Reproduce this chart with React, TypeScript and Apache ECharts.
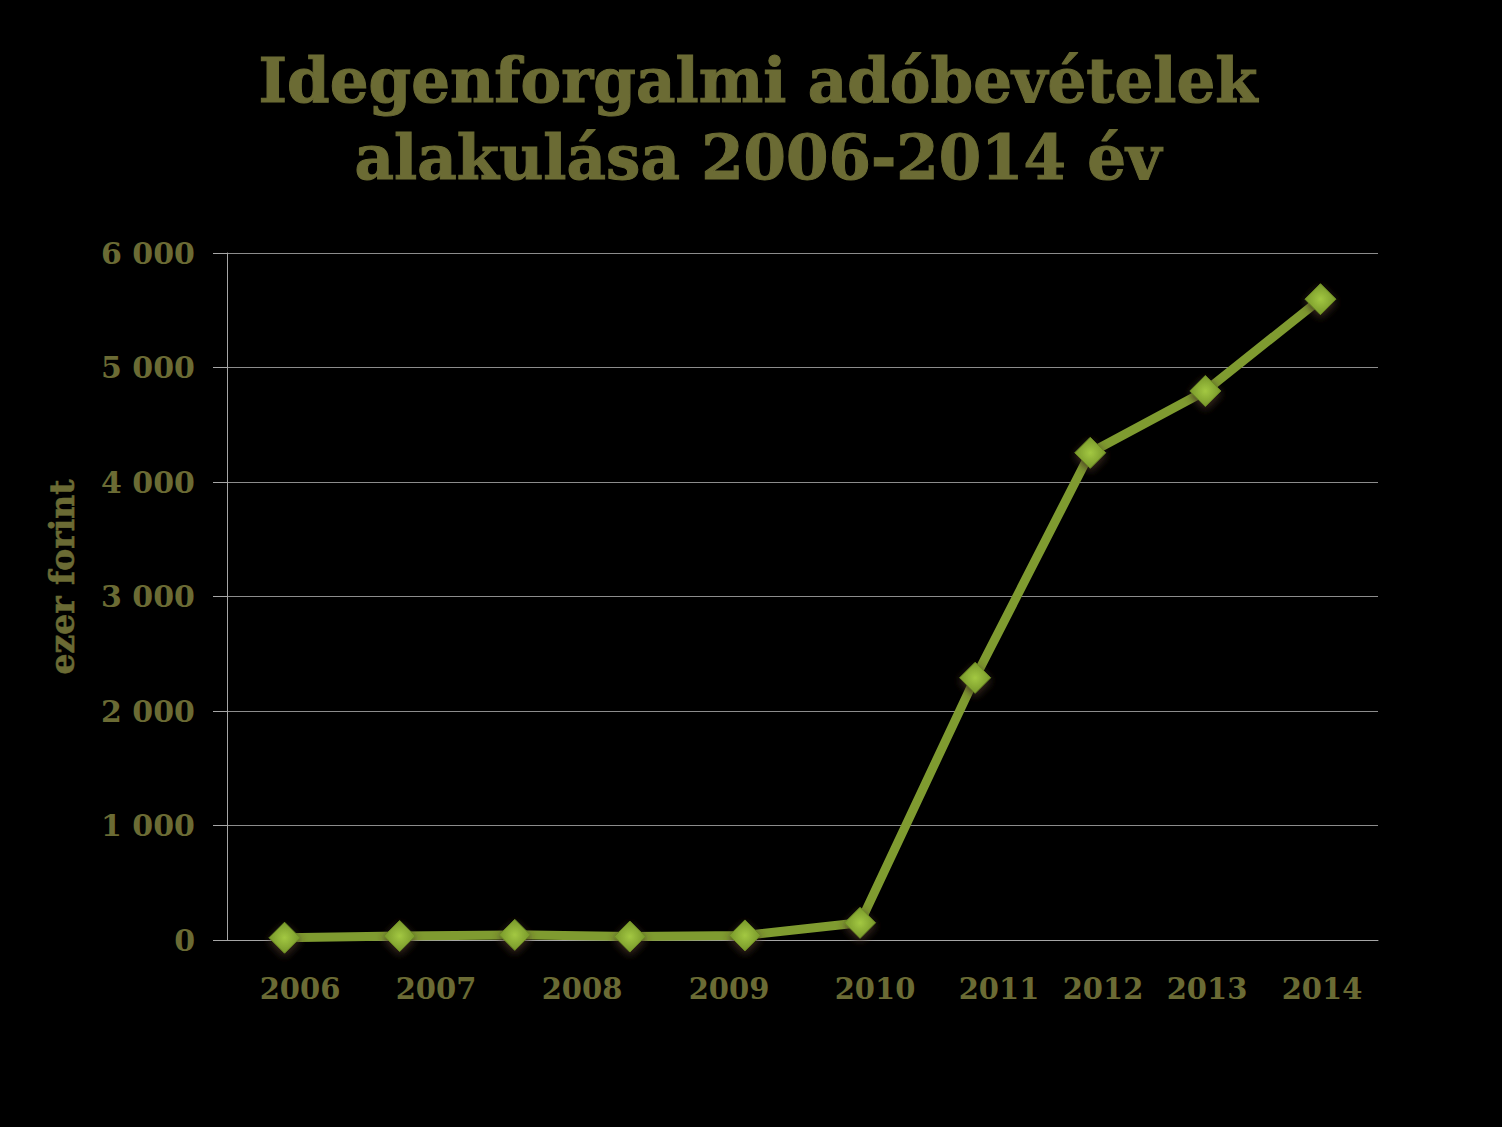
import React, { useEffect, useRef } from "react";
import * as echarts from "echarts";

const titleLines = ["Idegenforgalmi adóbevételek", "alakulása 2006-2014 év"];
const pointKeys = ["p1", "p2", "p3", "p4", "p5", "p6", "p7", "p8", "p9", "p10"];
const values = [20, 35, 45, 30, 40, 150, 2290, 4255, 4795, 5597];
const yearLabels = ["2006", "2007", "2008", "2009", "2010", "2011", "2012", "2013", "2014"];
const yTicks = [0, 1000, 2000, 3000, 4000, 5000, 6000];
const axisName = "ezer forint";

// layout (pixel centres of the year labels as laid out in the original slide)
const yearLabelX = [300, 436, 582, 729, 875, 999, 1103, 1207, 1322];
const yearLabelY = 989;

const OLIVE = "#6b6b34";
const SERIF = "'DejaVu Serif', serif";

export default function App() {
  const ref = useRef<HTMLDivElement>(null);
  useEffect(() => {
    if (!ref.current) return;
    const chart = echarts.init(ref.current, null, { renderer: "svg" });
    const fmt = (v: number) => String(v).replace(/\B(?=(\d{3})+(?!\d))/g, " ");
    chart.setOption({
      animation: false,
      backgroundColor: "#000",
      title: {
        text: titleLines.join("\n"),
        left: 753,
        textAlign: "center",
        top: 37,
        textStyle: {
          color: OLIVE,
          fontFamily: SERIF,
          fontWeight: "bold",
          fontSize: 61,
          lineHeight: 77,
          textBorderColor: OLIVE,
          textBorderWidth: 1,
        },
      },
      grid: { left: 227, right: 124, top: 253, bottom: 187 },
      xAxis: {
        type: "category",
        data: pointKeys,
        boundaryGap: true,
        axisLine: { show: true, lineStyle: { color: "#a6a6a6", width: 1 } },
        axisTick: { show: false },
        axisLabel: { show: false },
      },
      yAxis: {
        type: "value",
        min: yTicks[0],
        max: yTicks[yTicks.length - 1],
        interval: 1000,
        axisLine: { show: true, lineStyle: { color: "#a6a6a6", width: 1 } },
        axisTick: { show: true, length: 14, lineStyle: { color: "#a6a6a6" } },
        axisLabel: {
          margin: 32,
          color: OLIVE,
          fontFamily: SERIF,
          fontWeight: "bold",
          fontSize: 30,
          formatter: (v: number) => fmt(v),
        },
        splitLine: { show: true, lineStyle: { color: "#8c8c8c", width: 1 } },
      },
      graphic: [
        ...yearLabels.map((t, i) => ({
          type: "text",
          x: yearLabelX[i],
          y: yearLabelY,
          style: {
            text: t,
            fill: OLIVE,
            font: `bold 29px ${SERIF}`,
            align: "center",
            verticalAlign: "middle",
          },
        })),
        {
          type: "text",
          x: 62,
          y: 577,
          rotation: Math.PI / 2,
          style: {
            text: axisName,
            fill: OLIVE,
            font: `bold 33px ${SERIF}`,
            align: "center",
            verticalAlign: "middle",
            stroke: OLIVE,
            lineWidth: 0.6,
          },
        },
      ],
      series: [
        {
          type: "line",
          data: values,
          symbol: "diamond",
          symbolSize: 31,
          lineStyle: { color: "#7f9b30", width: 9 },
          itemStyle: {
            color: new echarts.graphic.RadialGradient(0.5, 0.5, 0.6, [
              { offset: 0, color: "#a3c842" },
              { offset: 1, color: "#6f8e25" },
            ]),
            borderColor: "#6d8a24",
            borderWidth: 1,
            shadowBlur: 8,
            shadowOffsetY: 3,
            shadowColor: "rgba(70,50,35,0.9)",
          },
          z: 3,
        },
      ],
    });
    return () => chart.dispose();
  }, []);
  return (
    <div style={{ position: "fixed", left: 0, top: 0, width: 1502, height: 1127, background: "#000" }}>
      <div ref={ref} style={{ width: 1502, height: 1127 }} />
    </div>
  );
}
